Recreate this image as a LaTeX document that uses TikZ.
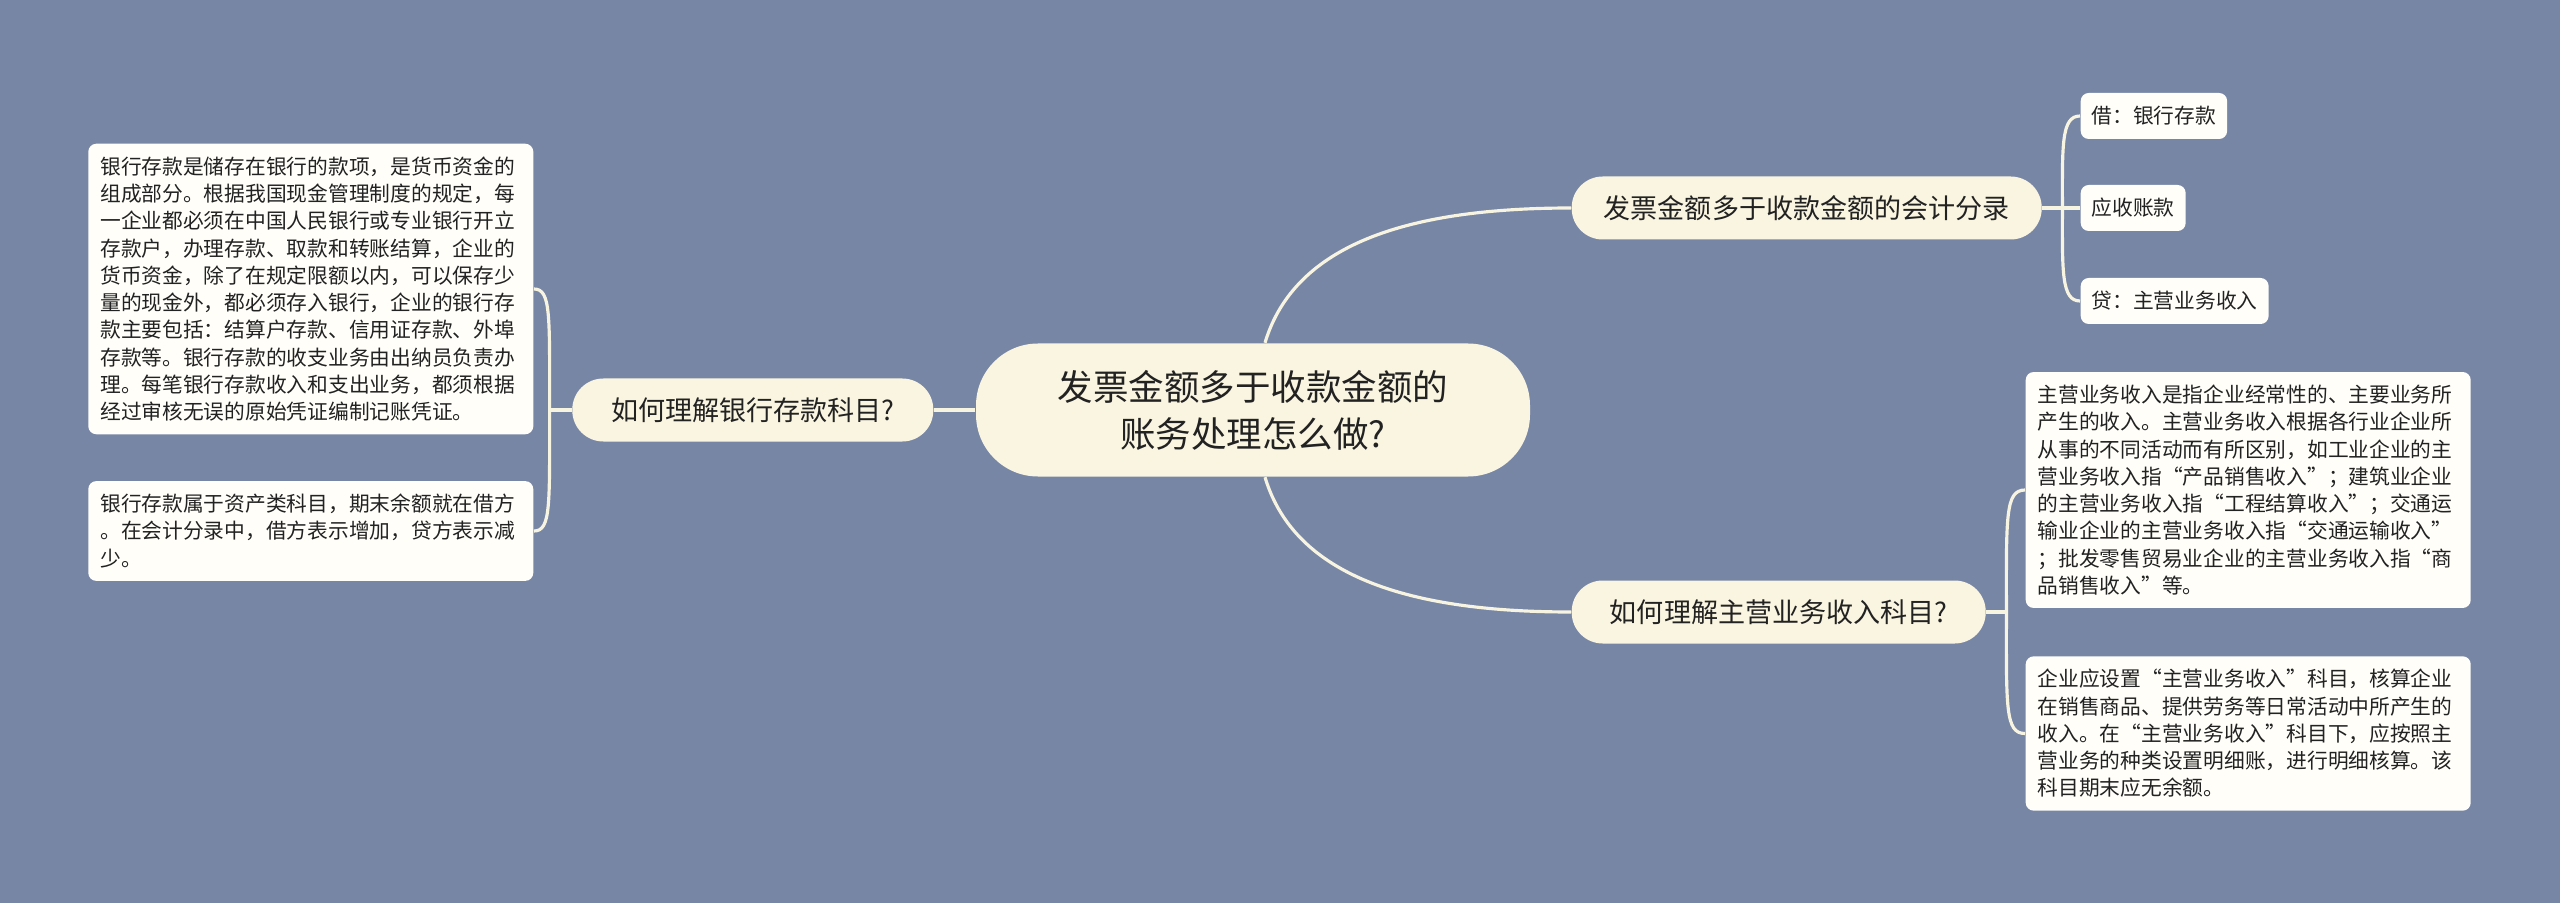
\documentclass[tikz,border=0pt]{standalone}
\usepackage{fontspec}
\setmainfont{Noto Sans CJK SC}
\usepackage{tikz}
\usetikzlibrary{positioning}
\definecolor{bgblue}{HTML}{7886A6}
\definecolor{cream}{HTML}{FAF5E1}
\definecolor{paper}{HTML}{FFFEF9}
\definecolor{wire}{HTML}{F8F4E2}
\definecolor{ink}{HTML}{222222}
\tikzset{
  rootnode/.style={fill=cream, text=ink, rounded corners=0.62cm, minimum width=5.54cm, minimum height=1.33cm, align=center, font=\fontsize{10.1}{13.4}\selectfont},
  branchnode/.style={fill=cream, text=ink, rounded corners=0.31cm, minimum height=0.63cm, inner xsep=0.2cm, font=\fontsize{7.7}{9.5}\selectfont},
  leafnode/.style={fill=paper, text=ink, rounded corners=0.08cm, minimum height=0.46cm, inner xsep=0.11cm, font=\fontsize{5.9}{7.75}\selectfont},
  notebox/.style={fill=paper, text=ink, rounded corners=0.08cm, text width=4.21cm, inner xsep=0.12cm, inner ysep=0.13cm, align=left, font=\fontsize{5.9}{7.75}\selectfont},
  link/.style={draw=wire, line width=0.9pt}
}

\begin{document}
\begin{tikzpicture}
            \fill[bgblue] (0,0) rectangle (25.6,9.03);
            \useasboundingbox (0,0) rectangle (25.6,9.03);
            \node[rootnode] (root) at (12.53,4.93) {发票金额多于收款金额的\\账务处理怎么做?};
            \node[branchnode, minimum width=4.70cm, anchor=west] (tq) at (15.71,6.95) {发票金额多于收款金额的会计分录};
            \node[branchnode, minimum width=4.14cm, anchor=west] (bq) at (15.71,2.91) {如何理解主营业务收入科目?};
            \node[branchnode, minimum width=3.61cm, anchor=east] (lq) at (9.34,4.93) {如何理解银行存款科目?};
            \node[leafnode, anchor=west] (leaf1) at (20.80,7.87) {借：银行存款};
            \node[leafnode, anchor=west] (leaf2) at (20.80,6.95) {应收账款};
            \node[leafnode, anchor=west] (leaf3) at (20.80,6.02) {贷：主营业务收入};
            \node[notebox, anchor=east] (lnote1) at (5.34,6.14) {银行存款是储存在银行的款项，是货币资金的\\组成部分。根据我国现金管理制度的规定，每\\一企业都必须在中国人民银行或专业银行开立\\存款户，办理存款、取款和转账结算，企业的\\货币资金，除了在规定限额以内，可以保存少\\量的现金外，都必须存入银行，企业的银行存\\款主要包括：结算户存款、信用证存款、外埠\\存款等。银行存款的收支业务由出纳员负责办\\理。每笔银行存款收入和支出业务，都须根据\\经过审核无误的原始凭证编制记账凭证。};
            \node[notebox, anchor=east] (lnote2) at (5.34,3.72) {银行存款属于资产类科目，期末余额就在借方\\。在会计分录中，借方表示增加，贷方表示减\\少。};
            \node[notebox, anchor=west] (rnote1) at (20.25,4.13) {主营业务收入是指企业经常性的、主要业务所\\产生的收入。主营业务收入根据各行业企业所\\从事的不同活动而有所区别，如工业企业的主\\营业务收入指“产品销售收入”；建筑业企业\\的主营业务收入指“工程结算收入”；交通运\\输业企业的主营业务收入指“交通运输收入”\\；批发零售贸易业企业的主营业务收入指“商\\品销售收入”等。};
            \node[notebox, anchor=west] (rnote2) at (20.25,1.695) {企业应设置“主营业务收入”科目，核算企业\\在销售商品、提供劳务等日常活动中所产生的\\收入。在“主营业务收入”科目下，应按照主\\营业务的种类设置明细账，进行明细核算。该\\科目期末应无余额。};
            \coordinate (lhub) at ([xshift=-0.22cm]lq.west);
            \coordinate (thub) at ([xshift=0.2cm]tq.east);
            \coordinate (bhub) at ([xshift=0.2cm]bq.east);
            \draw[link] (root.west) -- (lq.east);
            \draw[link] ([xshift=0.12cm]root.north) .. controls +(0.3,1.0) and +(-1.6,0) .. (tq.west);
            \draw[link] ([xshift=0.12cm]root.south) .. controls +(0.3,-1.0) and +(-1.6,0) .. (bq.west);
            \draw[link] (lq.west) -- (lhub);
            \draw[link] (lhub) .. controls +(0,0.95) and +(0.17,0) .. (lnote1.east);
            \draw[link] (lhub) .. controls +(0,-0.95) and +(0.17,0) .. (lnote2.east);
            \draw[link] (tq.east) -- (leaf2.west);
            \draw[link] (thub) .. controls +(0,0.62) and +(-0.19,0) .. (leaf1.west);
            \draw[link] (thub) .. controls +(0,-0.62) and +(-0.19,0) .. (leaf3.west);
            \draw[link] (bq.east) -- (bhub);
            \draw[link] (bhub) .. controls +(0,0.95) and +(-0.2,0) .. (rnote1.west);
            \draw[link] (bhub) .. controls +(0,-0.95) and +(-0.2,0) .. (rnote2.west);
        \end{tikzpicture}
\end{document}
